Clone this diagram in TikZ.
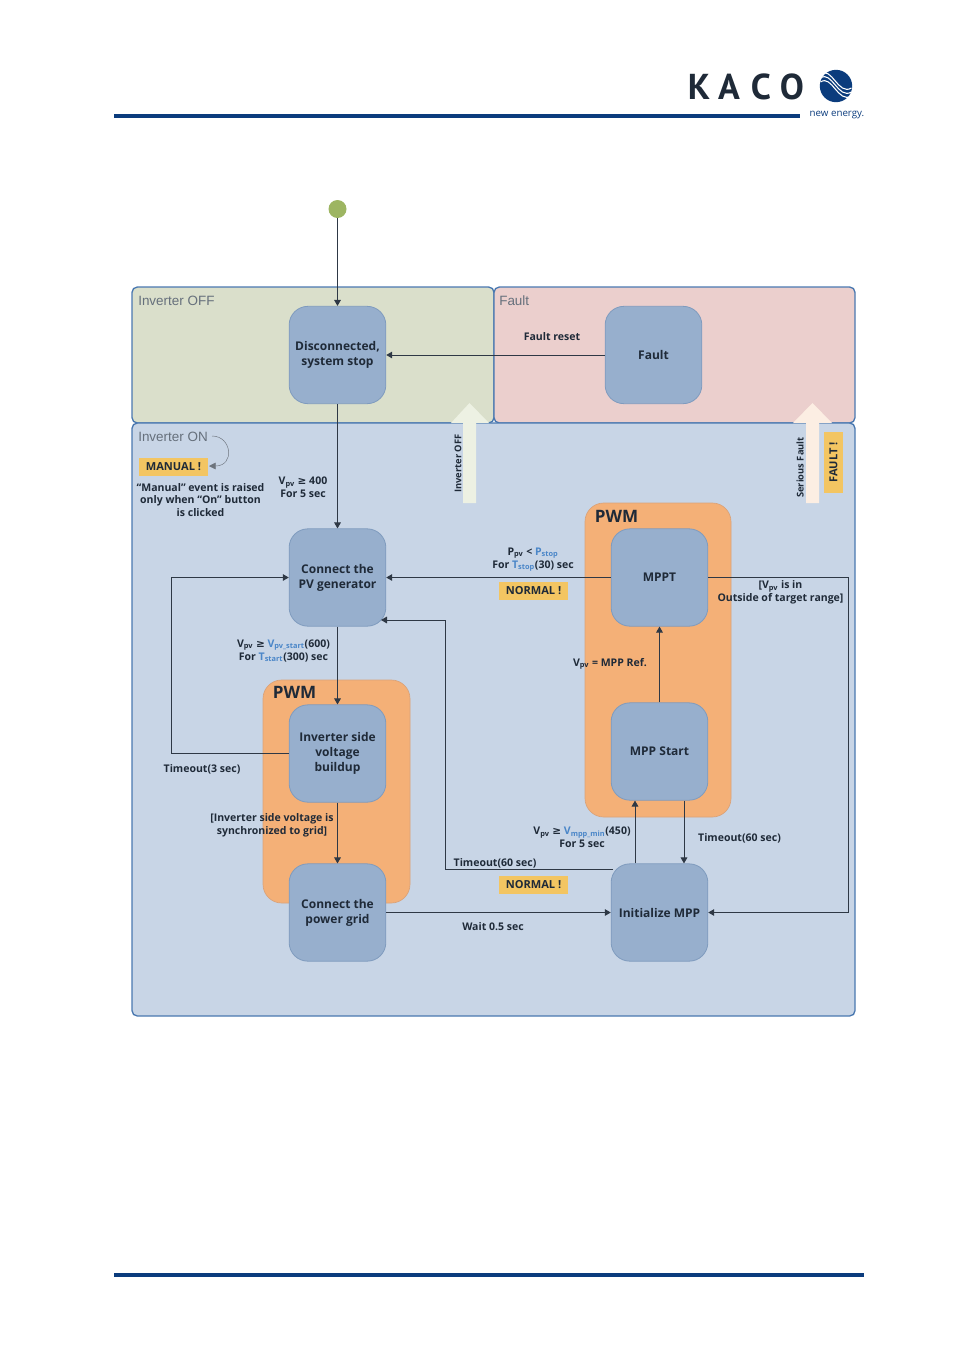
\documentclass[tikz,border=0pt]{standalone}
\usepackage{fontspec}
\setmainfont{Open Sans}
\newfontfamily\logofont{PT Sans}
\newfontfamily\regionfont{Liberation Sans}
\newfontfamily\symfont{DejaVu Sans}
\usetikzlibrary{arrows.meta}
\definecolor{navy}{HTML}{0B3C7D}
\definecolor{frameblue}{HTML}{4A78B0}
\definecolor{stateblue}{HTML}{97AFCD}
\definecolor{stateedge}{HTML}{7F9BBE}
\definecolor{offgreen}{HTML}{DADFCB}
\definecolor{faultpink}{HTML}{EBCFCD}
\definecolor{onblue}{HTML}{C8D5E6}
\definecolor{pwmorange}{HTML}{F4B077}
\definecolor{pwmedge}{HTML}{D9A27A}
\definecolor{tagyellow}{HTML}{F3C562}
\definecolor{ink}{HTML}{1F2A38}
\definecolor{wire}{HTML}{2E3845}
\definecolor{varblue}{HTML}{4A86C8}
\definecolor{regiontext}{HTML}{66707C}
\definecolor{startgreen}{HTML}{9DB562}
\definecolor{paleoff}{HTML}{EDF1E3}
\definecolor{palefault}{HTML}{FCEEE3}
\newcommand{\sbs}[1]{\textsubscript{#1}}
\newcommand{\vb}[1]{\textcolor{varblue}{#1}}
\newcommand{\gee}{{\symfont\bfseries ≥}}
\tikzset{
  x=0.75pt,y=-0.75pt,
  region/.style={draw=frameblue,line width=1pt,rounded corners=4pt},
  regionlabel/.style={anchor=west,inner sep=0pt,text=regiontext,font=\regionfont\fontsize{10.1}{12}\selectfont},
  pwmbox/.style={fill=pwmorange,draw=pwmedge,line width=0.5pt,rounded corners=14pt},
  pwmlabel/.style={inner sep=0pt,text=ink,font=\fontsize{12.8}{14}\selectfont\bfseries},
  statebox/.style={draw=stateedge,line width=0.6pt,fill=stateblue,rounded corners=14pt,minimum width=72.5pt,minimum height=73pt,inner sep=0pt,align=center,text=ink,font=\fontsize{9}{11.2}\selectfont\bfseries},
  wirearrow/.style={draw=wire,line width=0.75pt,-{Triangle[length=4.5pt,width=5pt]}},
  lbl/.style={inner sep=0pt,align=center,text=ink,font=\fontsize{7.9}{9.7}\selectfont\bfseries},
  rotlbl/.style={inner sep=0pt,rotate=90,text=ink,font=\fontsize{7}{9}\selectfont\bfseries},
  tag/.style={fill=tagyellow,inner sep=0pt,minimum width=52pt,minimum height=13.5pt,text=ink,font=\fontsize{8.3}{9}\selectfont\bfseries},
  rule/.style={draw=navy,line width=3pt},
  logoletter/.style={inner sep=0pt,text=ink,font=\logofont\fontsize{27}{27}\selectfont\bfseries},
}
\begin{document}
\begin{tikzpicture}
\useasboundingbox (0,0) rectangle (954,1350);
% page rules and logo
\coordinate (ruleAa) at (114,115.5); \coordinate (ruleAb) at (800,115.5);
\coordinate (ruleBa) at (114,1275); \coordinate (ruleBb) at (864,1275);
\draw[rule] (ruleAa) -- (ruleAb);
\draw[rule] (ruleBa) -- (ruleBb);
\node[logoletter] (lk) at (699,86.5) {K};
\node[logoletter] (la) at (729,86.5) {A};
\node[logoletter] (lc) at (761,86.5) {C};
\node[logoletter] (lo) at (792,86.5) {O};
\fill[navy] (836,86) circle[radius=16.2];
\foreach \d in {-4,0,4}{
  \draw[white,line width=0.8pt] (820.5,{78+\d}) .. controls (832,{70+\d}) and (838,{100+\d}) .. (851.5,{92+\d});
}
\node[inner sep=0pt,text=navy,font=\fontsize{7.3}{9}\selectfont] (lne) at (837,115) {new energy.};
% regions
\draw[region,fill=offgreen] (132,287) rectangle (494,423);
\draw[region,fill=faultpink] (494,287) rectangle (855,423);
\draw[region,fill=onblue] (132,423) rectangle (855,1016);
\node[regionlabel] (roff) at (138,301) {Inverter OFF};
\node[regionlabel] (rfault) at (499,301) {Fault};
\node[regionlabel] (ron) at (138,437) {Inverter ON};
% big arrows
\fill[paleoff] (463,503) -- (463,423) -- (451,423) -- (469.5,403) -- (489,423) -- (476,423) -- (476,503) -- cycle;
\fill[palefault] (806,503) -- (806,423) -- (793,423) -- (812.5,403) -- (832,423) -- (819,423) -- (819,503) -- cycle;
% PWM areas
\draw[pwmbox] (263,680) rectangle (410,903);
\draw[pwmbox] (585,503) rectangle (731,817);
\node[pwmlabel] (pa) at (294.5,692.5) {PWM};
\node[pwmlabel] (pb) at (616.5,516) {PWM};
% states
\node[statebox] (disc) at (337.5,355) {Disconnected,\\system stop};
\node[statebox] (fault) at (653.5,355) {Fault};
\node[statebox] (pv) at (337.5,577.5) {Connect the\\PV generator};
\node[statebox] (inv) at (337.5,753.5) {Inverter side\\voltage\\buildup};
\node[statebox] (grid) at (337.5,912.5) {Connect the\\power grid};
\node[statebox] (mppt) at (659.5,577.5) {MPPT};
\node[statebox] (mstart) at (659.5,751.5) {MPP Start};
\node[statebox] (init) at (659.5,912.5) {Initialize MPP};
\node[circle,fill=startgreen,minimum size=13.5pt,inner sep=0pt] (start) at (337.5,209) {};
% connectors
\coordinate (vl) at (171,753);
\coordinate (ul) at (171,577.5);
\coordinate (tra) at (848,577.5);
\coordinate (trb) at (848,912.5);
\coordinate (tm) at (445,869);
\coordinate (tn) at (445,620);
\coordinate (pvr) at (381,620);
\coordinate (ini) at (613,869);
\coordinate (xa) at (635,0);
\coordinate (xb) at (684,0);
\draw[wirearrow] (start) -- (disc);
\draw[wirearrow] (fault) -- (disc);
\draw[wirearrow] (disc) -- (pv);
\draw[wirearrow] (mppt) -- (pv);
\draw[wirearrow] (pv) -- (inv);
\draw[wirearrow] (inv.west |- vl) -- (vl) -- (ul) -- (pv);
\draw[wirearrow] (inv) -- (grid);
\draw[wirearrow] (grid) -- (init);
\draw[wirearrow] (init.north -| xa) -- (mstart.south -| xa);
\draw[wirearrow] (mstart.south -| xb) -- (init.north -| xb);
\draw[wirearrow] (mstart) -- (mppt);
\draw[wirearrow] (ini) -- (tm) -- (tn) -- (pvr);
\draw[wirearrow] (mppt) -- (tra) -- (trb) -- (init);
% manual note
\node[tag,minimum width=52pt] (tman) at (173.5,466.5) {MANUAL !};
\coordinate (curvestart) at (212,436);
\coordinate (curveend) at (209,466);
\draw[draw=wire!70,line width=0.35pt,-{Triangle[length=5pt,width=5pt]}] (curvestart) .. controls (232,436) and (235,466) .. (curveend);
\node[lbl] (lman) at (200.5,500) {“Manual” event is raised\\only when “On” button\\is clicked};
% labels
\node[lbl] (l400) at (303,487.5) {V\sbs{pv} \gee{} 400\\For 5 sec};
\node[lbl] (lreset) at (552,336.5) {Fault reset};
\node[rotlbl] (loff) at (458,463.5) {Inverter OFF};
\node[rotlbl] (lserious) at (800,467.5) {Serious Fault};
\node[tag,rotate=90,minimum width=46pt,minimum height=14pt] (tfault) at (833.5,462.5) {FAULT !};
\node[lbl] (lstop) at (533,559.5) {P\sbs{pv} < \vb{P\sbs{stop}}\\For \vb{T\sbs{stop}}(30) sec};
\node[tag] (tn1) at (533.5,591) {NORMAL !};
\node[lbl] (lrange) at (780.5,592.5) {[V\sbs{pv} is in\\Outside of target range]};
\node[lbl] (lstart) at (283.5,651) {V\sbs{pv} \gee{} \vb{V\sbs{pv\_start}}(600)\\For \vb{T\sbs{start}}(300) sec};
\node[lbl] (lref) at (610,664) {V\sbs{pv} = MPP Ref.};
\node[lbl] (l3s) at (202,769.5) {Timeout(3 sec)};
\node[lbl] (lsync) at (272,825.5) {[Inverter side voltage is\\synchronized to grid]};
\node[lbl] (lmin) at (582,837.5) {V\sbs{pv} \gee{} \vb{V\sbs{mpp\_min}}(450)\\For 5 sec};
\node[lbl] (lt60a) at (739.5,838.5) {Timeout(60 sec)};
\node[lbl] (lt60b) at (495,863.5) {Timeout(60 sec)};
\node[tag] (tn2) at (533.5,885) {NORMAL !};
\node[lbl] (lwait) at (493,926.5) {Wait 0.5 sec};
\end{tikzpicture}
\end{document}
